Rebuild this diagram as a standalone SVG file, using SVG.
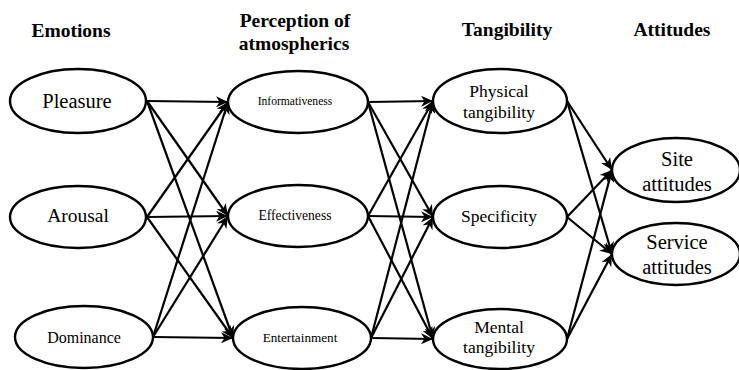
<svg xmlns="http://www.w3.org/2000/svg" width="739" height="370" viewBox="0 0 739 370">
<style>
  .node ellipse { fill: #ffffff; stroke: #000000; stroke-width: 2.4; }
  .node text { fill: #000000; text-anchor: middle; }
  .hdr { font-weight: bold; font-size: 19.5px; text-anchor: middle; fill: #000000; }
  #connectors line { stroke: #000000; stroke-width: 2.2; marker-end: url(#arrow); }
</style>
<defs>
  <marker id="arrow" markerUnits="userSpaceOnUse" markerWidth="13" markerHeight="11" refX="12" refY="5.5" orient="auto">
    <path d="M0,0 L12,5.5 L0,11 L3.5,5.5 z" fill="#000000"/>
  </marker>
</defs>
<rect width="739" height="370" fill="#ffffff"/>

<g id="headers">
  <text class="hdr" x="71" y="37" style="font-family:'Liberation Serif',serif">Emotions</text>
  <text class="hdr" x="295" y="27" style="font-family:'Liberation Serif',serif">Perception of</text>
  <text class="hdr" x="294" y="50" style="font-family:'Liberation Serif',serif">atmospherics</text>
  <text class="hdr" x="507" y="36" style="font-family:'Liberation Serif',serif">Tangibility</text>
  <text class="hdr" x="672" y="36" style="font-family:'Liberation Serif',serif">Attitudes</text>
</g>

<g id="connectors">
  <line x1="147" y1="101" x2="228" y2="102"/>
  <line x1="147" y1="101" x2="228" y2="216"/>
  <line x1="147" y1="101" x2="233" y2="338"/>
  <line x1="147" y1="217" x2="228" y2="102"/>
  <line x1="147" y1="217" x2="228" y2="216"/>
  <line x1="147" y1="217" x2="233" y2="338"/>
  <line x1="153" y1="337" x2="228" y2="102"/>
  <line x1="153" y1="337" x2="228" y2="216"/>
  <line x1="153" y1="337" x2="233" y2="338"/>

  <line x1="368" y1="102" x2="433" y2="101"/>
  <line x1="368" y1="102" x2="433" y2="217"/>
  <line x1="368" y1="102" x2="433" y2="339"/>
  <line x1="368" y1="216" x2="433" y2="101"/>
  <line x1="368" y1="216" x2="433" y2="217"/>
  <line x1="368" y1="216" x2="433" y2="339"/>
  <line x1="371" y1="338" x2="433" y2="101"/>
  <line x1="371" y1="338" x2="433" y2="217"/>
  <line x1="371" y1="338" x2="433" y2="339"/>

  <line x1="567" y1="101" x2="612" y2="170"/>
  <line x1="567" y1="101" x2="612" y2="254"/>
  <line x1="567" y1="217" x2="612" y2="170"/>
  <line x1="567" y1="217" x2="612" y2="254"/>
  <line x1="567" y1="339" x2="612" y2="170"/>
  <line x1="567" y1="339" x2="612" y2="254"/>
</g>

<g id="pleasure" class="node">
  <ellipse cx="78" cy="101" rx="68" ry="32"/>
  <text x="77" y="108" style="font-family:'Liberation Serif',serif;font-size:20.5px">Pleasure</text>
</g>
<g id="arousal" class="node">
  <ellipse cx="78" cy="217" rx="68" ry="31"/>
  <text x="78" y="222" style="font-family:'Liberation Serif',serif;font-size:19.5px">Arousal</text>
</g>
<g id="dominance" class="node">
  <ellipse cx="84" cy="337" rx="69" ry="31"/>
  <text x="84" y="343" style="font-family:'Liberation Serif',serif;font-size:16px">Dominance</text>
</g>

<g id="informativeness" class="node">
  <ellipse cx="298" cy="102" rx="70" ry="31"/>
  <text x="295" y="105" style="font-family:'Liberation Serif',serif;font-size:11.6px">Informativeness</text>
</g>
<g id="effectiveness" class="node">
  <ellipse cx="298" cy="216" rx="70" ry="31"/>
  <text x="295" y="220" style="font-family:'Liberation Serif',serif;font-size:13.6px">Effectiveness</text>
</g>
<g id="entertainment" class="node">
  <ellipse cx="302" cy="338" rx="69" ry="31"/>
  <text x="300" y="342" style="font-family:'Liberation Serif',serif;font-size:13.2px">Entertainment</text>
</g>

<g id="physical-tangibility" class="node">
  <ellipse cx="500" cy="101" rx="67" ry="32"/>
  <text x="499" y="97" style="font-family:'Liberation Serif',serif;font-size:17.5px">Physical</text>
  <text x="499" y="118" style="font-family:'Liberation Serif',serif;font-size:17.5px">tangibility</text>
</g>
<g id="specificity" class="node">
  <ellipse cx="500" cy="217" rx="67" ry="31"/>
  <text x="499" y="222" style="font-family:'Liberation Serif',serif;font-size:17.5px">Specificity</text>
</g>
<g id="mental-tangibility" class="node">
  <ellipse cx="500" cy="339" rx="67" ry="30"/>
  <text x="499" y="333" style="font-family:'Liberation Serif',serif;font-size:17.5px">Mental</text>
  <text x="499" y="353" style="font-family:'Liberation Serif',serif;font-size:17.5px">tangibility</text>
</g>

<g id="site-attitudes" class="node">
  <ellipse cx="676" cy="170" rx="64" ry="32"/>
  <text x="677" y="166" style="font-family:'Liberation Serif',serif;font-size:20.5px">Site</text>
  <text x="677" y="191" style="font-family:'Liberation Serif',serif;font-size:20.5px">attitudes</text>
</g>
<g id="service-attitudes" class="node">
  <ellipse cx="676" cy="254" rx="64" ry="31"/>
  <text x="677" y="249" style="font-family:'Liberation Serif',serif;font-size:20.5px">Service</text>
  <text x="677" y="274" style="font-family:'Liberation Serif',serif;font-size:20.5px">attitudes</text>
</g>
</svg>
